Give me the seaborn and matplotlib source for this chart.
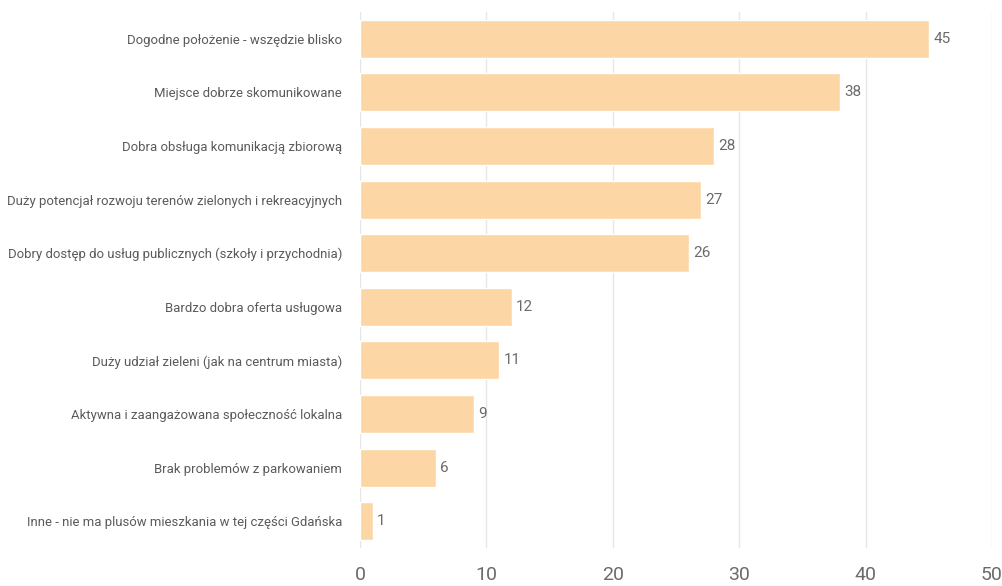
import matplotlib
matplotlib.use("Agg")
import matplotlib.pyplot as plt
import seaborn as sns
import pandas as pd

categories = [
    "Dogodne położenie - wszędzie blisko",
    "Miejsce dobrze skomunikowane",
    "Dobra obsługa komunikacją zbiorową",
    "Duży potencjał rozwoju terenów zielonych i rekreacyjnych",
    "Dobry dostęp do usług publicznych (szkoły i przychodnia)",
    "Bardzo dobra oferta usługowa",
    "Duży udział zieleni (jak na centrum miasta)",
    "Aktywna i zaangażowana społeczność lokalna",
    "Brak problemów z parkowaniem",
    "Inne - nie ma plusów mieszkania w tej części Gdańska",
]
values = [45, 38, 28, 27, 26, 12, 11, 9, 6, 1]
x_ticks = [0, 10, 20, 30, 40, 50]

df = pd.DataFrame({"label": categories, "value": values})

sns.set_theme(style="white")
plt.rcParams["font.family"] = ["Roboto", "DejaVu Sans"]

fig = plt.figure(figsize=(10.02, 5.86), dpi=100)
ax = fig.add_axes([360/1002, 1-548/586, 632/1002, 536/586])

sns.barplot(data=df, x="value", y="label", color="#FDD6A5", saturation=1,
            width=0.71, ax=ax, zorder=2)

ax.set_xlim(0, 50)
ax.set_ylim(9.5, -0.5)
ax.set_xticks(x_ticks)
ax.set_xticklabels([str(t) for t in x_ticks], fontsize=14, color="#6b6b6b")
ax.tick_params(axis="x", length=0, pad=13)
ax.set_xlabel("")
ax.set_ylabel("")
ax.grid(axis="x", color="#e6e6e6", linewidth=1, zorder=0)
ax.grid(axis="y", visible=False)
for s in ax.spines.values():
    s.set_visible(False)

# fit the y labels into the reference's label column width
ax.tick_params(axis="y", length=0, pad=13, labelsize=11, labelcolor="#5a5a5a")
fig.canvas.draw()
r = fig.canvas.get_renderer()
wmax = max(t.get_window_extent(r).width for t in ax.get_yticklabels())
fs = 11 * 334 / wmax
ax.tick_params(axis="y", labelsize=fs)

for i, v in enumerate(values):
    ax.text(v + 0.35, i, str(v), va="center", ha="left", fontsize=11, color="#6b6b6b")

fig.savefig("out.png", dpi=100)
